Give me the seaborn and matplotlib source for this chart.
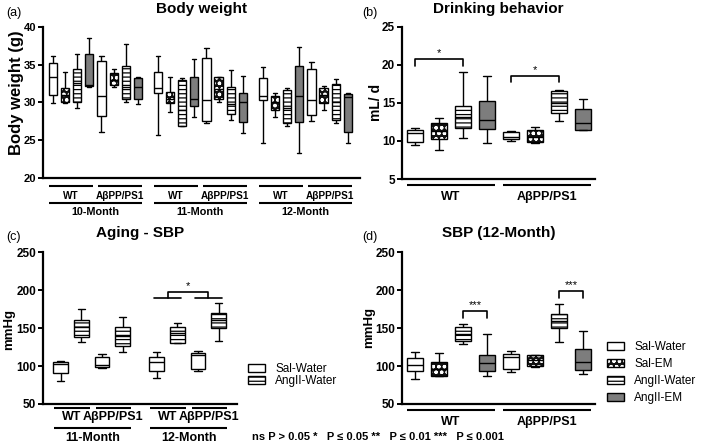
import numpy as np
import pandas as pd
import matplotlib
matplotlib.use("Agg")
import matplotlib.pyplot as plt
import matplotlib.colors as mcolors
from matplotlib.patches import Patch
from matplotlib.transforms import blended_transform_factory
import seaborn as sns

# ---------------- data: box summaries [min, Q1, median, Q3, max] ----------------
treatments = ["Sal-Water", "Sal-EM", "AngII-Water", "AngII-EM"]
genotypes = ["WT", "AβPP/PS1"]
months_bw = ["10-Month", "11-Month", "12-Month"]
months_age = ["11-Month", "12-Month"]

# (a) Body weight (g); order: 10M WT, 10M APP, 11M WT, 11M APP, 12M WT, 12M APP
bw_sal_water = [[29.9, 31.0, 33.4, 35.3, 36.2], [26.1, 28.2, 30.9, 35.5, 36.2],
                [25.7, 31.3, 31.9, 34.0, 36.2], [27.3, 27.5, 30.3, 35.9, 37.3],
                [24.6, 30.3, 30.8, 33.2, 34.7], [27.5, 28.3, 30.3, 34.4, 35.4]]
bw_sal_em = [[29.9, 30.1, 31.0, 31.9, 34.0], [32.0, 32.3, 33.0, 33.9, 34.5],
             [28.7, 29.9, 30.5, 31.4, 33.4], [30.1, 30.5, 31.8, 33.4, 33.4],
             [28.0, 29.0, 30.0, 30.9, 31.3], [29.0, 29.9, 31.0, 31.9, 32.2]]
bw_ang_water = [[29.3, 30.0, 32.6, 34.4, 36.4], [30.0, 30.5, 32.1, 34.9, 37.8],
                [26.8, 26.9, 29.0, 33.0, 33.3], [27.7, 28.5, 29.8, 32.1, 34.3],
                [26.8, 27.2, 29.3, 31.6, 31.9], [27.2, 27.7, 30.0, 32.5, 33.1]]
bw_ang_em = [[32.1, 32.2, 32.3, 36.5, 38.6], [29.8, 30.5, 32.0, 33.3, 33.4],
             [28.1, 29.5, 30.5, 33.4, 35.8], [25.9, 27.4, 30.1, 31.3, 33.5],
             [23.2, 27.4, 30.9, 34.8, 37.4], [24.6, 26.0, 30.7, 31.1, 31.2]]

# (b) Drinking behavior (mL/d); order: WT, APP
dr_sal_water = [[9.5, 9.9, 11.1, 11.5, 11.7], [10.0, 10.2, 10.5, 11.2, 11.3]]
dr_sal_em = [[8.8, 10.3, 11.3, 12.4, 13.0], [9.7, 9.8, 10.5, 11.4, 11.8]]
dr_ang_water = [[10.4, 11.7, 13.2, 14.6, 19.0], [12.6, 13.7, 15.0, 16.5, 16.7]]
dr_ang_em = [[9.7, 11.6, 12.8, 15.3, 18.5], [11.4, 11.5, 12.3, 14.2, 15.5]]

# (c) Aging - SBP (mmHg); order: 11M WT, 11M APP, 12M WT, 12M APP
age_sal_water = [[80, 90.5, 102.5, 105.5, 106.5], [97.5, 98.5, 102, 112, 116],
                 [84, 94, 106, 112, 118.5], [94, 96.5, 114.5, 117, 120.5]]
age_ang_water = [[132, 138, 152, 161, 175], [119, 127, 139, 151, 164.5],
                 [130, 130.5, 143, 151.5, 157], [132.5, 150, 161, 170, 183]]

# (d) SBP 12-Month (mmHg); order: WT, APP
sbp_sal_water = [[83, 93, 102, 111, 118], [92, 96, 112, 116, 120]]
sbp_sal_em = [[87, 87.5, 96, 105, 117], [99, 100, 108, 114.5, 115]]
sbp_ang_water = [[129, 133, 142, 151, 156], [132, 150, 160, 169, 182]]
sbp_ang_em = [[87, 94, 104, 115, 142], [90, 95, 105, 122, 146]]

footer = "ns P > 0.05 *   P ≤ 0.05 **   P ≤ 0.01 ***   P ≤ 0.001"

# ---------------- style ----------------
sns.set_theme(style="ticks")
plt.rcParams["font.family"] = ["Liberation Sans", "DejaVu Sans"]
plt.rcParams["hatch.linewidth"] = 0.9
for k in ["axes.edgecolor", "xtick.color", "ytick.color", "text.color", "axes.labelcolor"]:
    plt.rcParams[k] = "black"

STYLE = {
    "Sal-Water": dict(face="white", hatch=None, hcolor="black"),
    "Sal-EM": dict(face="#111111", hatch="ooo", hcolor="white"),
    "AngII-Water": dict(face="white", hatch="----", hcolor="black"),
    "AngII-EM": dict(face="#7d7d7d", hatch=None, hcolor="black"),
}

W, H = 702, 445
fig = plt.figure(figsize=(W / 100, H / 100), dpi=100)
fig.patch.set_facecolor("white")


def px_axes(x0, y0, x1, y1):
    return fig.add_axes([x0 / W, 1 - y1 / H, (x1 - x0) / W, (y1 - y0) / H])


def draw_treatment(ax, summaries, positions, width, treat):
    positions = np.asarray(positions, float)
    xs = np.repeat(positions, 5)
    ys = np.concatenate([np.asarray(s, float) for s in summaries])
    df = pd.DataFrame({"pos": xs, "value": ys})
    uniq = np.unique(positions)
    native = np.min(np.diff(uniq)) if len(uniq) > 1 else 1.0
    n0 = len(ax.patches)
    st = STYLE[treat]
    sns.boxplot(data=df, x="pos", y="value", native_scale=True, whis=(0, 100),
                width=width / native, color=st["face"], linecolor="black",
                linewidth=1.0, saturation=1, fliersize=0, ax=ax)
    for p in ax.patches[n0:]:
        if st["hatch"]:
            p.set_hatch(st["hatch"])
            p._hatch_color = mcolors.to_rgba(st["hcolor"])


def style_axis(ax, ylim, yticks, xlim, tsize):
    ax.set_xlim(*xlim)
    ax.set_ylim(*ylim)
    ax.set_yticks(yticks)
    ax.set_xlabel("")
    ax.set_ylabel("")
    sns.despine(ax=ax)
    for s in ["left", "bottom"]:
        ax.spines[s].set_linewidth(1.6)
    ax.tick_params(axis="x", bottom=False, labelbottom=False)
    ax.tick_params(axis="y", direction="out", length=3.5, width=1.4,
                   labelsize=tsize, pad=1.5)
    for lab in ax.get_yticklabels():
        lab.set_fontweight("bold")
    ax.set_facecolor("white")


def hline(ax, x0, x1, yf, lw=1.5):
    tr = blended_transform_factory(ax.transData, ax.transAxes)
    ax.plot([x0, x1], [yf, yf], transform=tr, color="black", lw=lw,
            clip_on=False, solid_capstyle="butt")


def htext(ax, x, yf, s, size):
    tr = blended_transform_factory(ax.transData, ax.transAxes)
    ax.text(x, yf, s, transform=tr, ha="center", va="center",
            fontsize=size, fontweight="bold")


def bracket(ax, x0, x1, y, drop, star, size=8):
    ax.plot([x0, x0, x1, x1], [y - drop, y, y, y - drop], color="black",
            lw=1.2, clip_on=False)
    ax.text((x0 + x1) / 2, y + drop * 0.15, star, ha="center", va="bottom",
            fontsize=size)


def legend_handles(names):
    hs = []
    for n in names:
        st = STYLE[n]
        p = Patch(facecolor=st["face"], edgecolor="black", lw=1.0,
                  hatch=st["hatch"], label=n)
        p._hatch_color = mcolors.to_rgba(st["hcolor"])
        hs.append(p)
    return hs


def ftext(x, y, s, **kw):
    fig.text(x / W, 1 - y / H, s, **kw)


# ---------------- (a) Body weight ----------------
axA = px_axes(43, 27.3, 360, 177.5)
month_off = 8.65
bw_data = {"Sal-Water": bw_sal_water, "Sal-EM": bw_sal_em,
           "AngII-Water": bw_ang_water, "AngII-EM": bw_ang_em}
for j, t in enumerate(treatments):
    pos = [m * month_off + g * 4 + j for m in range(3) for g in range(2)]
    draw_treatment(axA, bw_data[t], pos, 0.68, t)
style_axis(axA, (20, 40), [20, 25, 30, 35, 40], (-0.82, 25.3), 8)
for m, mname in enumerate(months_bw):
    base = m * month_off
    for g, gname in enumerate(genotypes):
        x0 = base + g * 4
        hline(axA, x0 - 0.3, x0 + 3.3, -0.055)
        htext(axA, x0 + 1.5, -0.123, gname, 7.2)
    hline(axA, base - 0.3, base + 7.3, -0.17)
    htext(axA, base + 3.5, -0.23, mname, 7.8)

# ---------------- (b) Drinking behavior ----------------
axB = px_axes(402, 26.7, 595, 179)
dr_data = {"Sal-Water": dr_sal_water, "Sal-EM": dr_sal_em,
           "AngII-Water": dr_ang_water, "AngII-EM": dr_ang_em}
for j, t in enumerate(treatments):
    pos = [g * 4 + j for g in range(2)]
    draw_treatment(axB, dr_data[t], pos, 0.7, t)
style_axis(axB, (5, 25), [5, 10, 15, 20, 25], (-0.54, 7.5), 8.5)
for g, gname in enumerate(genotypes):
    x0 = g * 4
    hline(axB, x0 - 0.35, x0 + 3.35, -0.04)
    htext(axB, x0 + 1.5, -0.118, gname, 9)
bracket(axB, 0, 2, 20.7, 0.85, "*")
bracket(axB, 4, 6, 18.5, 0.8, "*")

# ---------------- (c) Aging - SBP ----------------
axC = px_axes(43, 252.3, 237, 404)
gap_c = 4.64
age_data = {"Sal-Water": age_sal_water, "AngII-Water": age_ang_water}
for j, t in enumerate(["Sal-Water", "AngII-Water"]):
    pos = [m * gap_c + g * 2 + j for m in range(2) for g in range(2)]
    draw_treatment(axC, age_data[t], pos, 0.71, t)
style_axis(axC, (50, 250), [50, 100, 150, 200, 250], (-0.85, 8.53), 8.5)
for m, mname in enumerate(months_age):
    base = m * gap_c
    for g, gname in enumerate(genotypes):
        x0 = base + g * 2
        hline(axC, x0 - 0.3, x0 + 1.4, -0.024)
        htext(axC, x0 + 0.55, -0.086, gname, 9)
    hline(axC, base - 0.3, base + 3.4, -0.156)
    htext(axC, base + 1.55, -0.222, mname, 9)
axC.plot([4.52, 5.82], [189.3, 189.3], color="black", lw=1.2)
axC.plot([6.5, 7.8], [189.3, 189.3], color="black", lw=1.2)
axC.plot([5.18, 5.18, 7.14, 7.14], [189.3, 197.3, 197.3, 189.3], color="black", lw=1.2)
axC.text(6.16, 198.5, "*", ha="center", va="bottom", fontsize=8)
axC.legend(handles=legend_handles(["Sal-Water", "AngII-Water"]), loc="upper left",
           bbox_to_anchor=(248 / W, 1 - 363 / H), bbox_transform=fig.transFigure,
           frameon=False, fontsize=8.5, borderpad=0, borderaxespad=0,
           handlelength=1.4, handleheight=0.7, handletextpad=0.9,
           labelspacing=0.0)

# ---------------- (d) SBP (12-Month) ----------------
axD = px_axes(402, 252.3, 595, 404)
sbp_data = {"Sal-Water": sbp_sal_water, "Sal-EM": sbp_sal_em,
            "AngII-Water": sbp_ang_water, "AngII-EM": sbp_ang_em}
for j, t in enumerate(treatments):
    pos = [g * 4 + j for g in range(2)]
    draw_treatment(axD, sbp_data[t], pos, 0.7, t)
style_axis(axD, (50, 250), [50, 100, 150, 200, 250], (-0.54, 7.5), 8.5)
for g, gname in enumerate(genotypes):
    x0 = g * 4
    hline(axD, x0 - 0.35, x0 + 3.35, -0.04)
    htext(axD, x0 + 1.5, -0.118, gname, 9)
bracket(axD, 2, 3, 173, 9, "***")
bracket(axD, 6, 7, 199, 9, "***")
axD.legend(handles=legend_handles(treatments), loc="upper left",
           bbox_to_anchor=(607 / W, 1 - 341 / H), bbox_transform=fig.transFigure,
           frameon=False, fontsize=8.5, borderpad=0, borderaxespad=0,
           handlelength=1.4, handleheight=0.7, handletextpad=0.9,
           labelspacing=0.42)

# ---------------- titles, labels ----------------
ftext(201.5, 9, "Body weight", ha="center", va="center", fontsize=11, fontweight="bold")
ftext(498.5, 9, "Drinking behavior", ha="center", va="center", fontsize=11, fontweight="bold")
ftext(140, 233, "Aging - SBP", ha="center", va="center", fontsize=11, fontweight="bold")
ftext(498.5, 233, "SBP (12-Month)", ha="center", va="center", fontsize=11, fontweight="bold")
ftext(6, 13, "(a)", ha="left", va="center", fontsize=9)
ftext(362, 13, "(b)", ha="left", va="center", fontsize=9)
ftext(6, 237, "(c)", ha="left", va="center", fontsize=9)
ftext(362, 237, "(d)", ha="left", va="center", fontsize=9)
ftext(16.5, 93, "Body weight (g)", ha="center", va="center", rotation=90,
      fontsize=12, fontweight="bold")
ftext(376, 102, "mL/ d", ha="center", va="center", rotation=90,
      fontsize=10, fontweight="bold")
ftext(9.5, 330, "mmHg", ha="center", va="center", rotation=90,
      fontsize=9.5, fontweight="bold")
ftext(369, 328, "mmHg", ha="center", va="center", rotation=90,
      fontsize=9.5, fontweight="bold")
ftext(252, 437, footer, ha="left", va="center", fontsize=8, fontweight="bold")

fig.savefig("out.png", dpi=100, facecolor="white")
